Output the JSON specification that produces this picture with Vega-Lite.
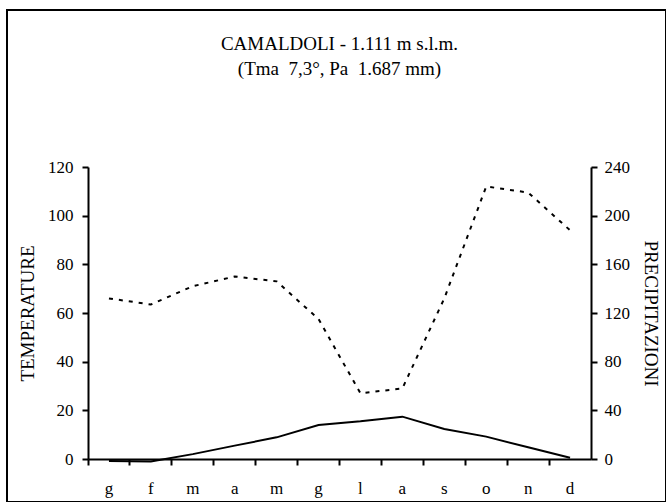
{
  "$schema": "https://vega.github.io/schema/vega-lite/v6.json",
  "width": 659,
  "height": 492,
  "autosize": {"type": "none"},
  "padding": {"left": 7, "top": 10, "right": 0, "bottom": 0},
  "background": "white",
  "title": {
    "text": ["CAMALDOLI - 1.111 m s.l.m.", "(Tma\u00a0 7,3°, Pa\u00a0 1.687 mm)"],
    "anchor": "middle",
    "font": "Liberation Serif",
    "fontSize": 19,
    "fontWeight": "normal",
    "color": "black",
    "lineHeight": 25,
    "offset": 0,
    "dy": 69,
    "dx": 3
  },
  "config": {
    "view": {"stroke": "black", "strokeWidth": 2},
    "axis": {
      "grid": false,
      "domainColor": "black",
      "domainWidth": 2,
      "tickColor": "black",
      "tickWidth": 2,
      "tickSize": 6,
      "labelFont": "Liberation Serif",
      "labelFontSize": 17,
      "labelColor": "black",
      "titleFont": "Liberation Serif",
      "titleFontSize": 19,
      "titleFontWeight": "normal",
      "titleColor": "black"
    }
  },
  "data": {
    "values": [
      {"mese": "gen", "temperatura": -0.8, "precipitazioni": 132},
      {"mese": "feb", "temperatura": -1.0, "precipitazioni": 127},
      {"mese": "mar", "temperatura": 2.0, "precipitazioni": 142},
      {"mese": "apr", "temperatura": 5.5, "precipitazioni": 150},
      {"mese": "mag", "temperatura": 8.9, "precipitazioni": 146},
      {"mese": "giu", "temperatura": 14.0, "precipitazioni": 115},
      {"mese": "lug", "temperatura": 15.5, "precipitazioni": 54},
      {"mese": "ago", "temperatura": 17.4, "precipitazioni": 58},
      {"mese": "set", "temperatura": 12.3, "precipitazioni": 132},
      {"mese": "ott", "temperatura": 9.2, "precipitazioni": 224},
      {"mese": "nov", "temperatura": 4.8, "precipitazioni": 219},
      {"mese": "dic", "temperatura": 0.5, "precipitazioni": 188}
    ]
  },
  "encoding": {
    "x": {
      "field": "mese",
      "type": "nominal",
      "sort": ["gen", "feb", "mar", "apr", "mag", "giu", "lug", "ago", "set", "ott", "nov", "dic"],
      "scale": {"type": "band", "range": [81, 584], "paddingInner": 0, "paddingOuter": 0},
      "axis": {
        "orient": "bottom",
        "offset": -43,
        "title": null,
        "labelAngle": 0,
        "labelPadding": 15,
        "bandPosition": 0,
        "labelExpr": "substring(datum.label, 0, 1)"
      }
    }
  },
  "layer": [
    {
      "mark": {"type": "line", "color": "black", "strokeWidth": 2},
      "encoding": {
        "y": {
          "field": "temperatura",
          "type": "quantitative",
          "scale": {"domain": [0, 120], "range": [449, 157], "nice": false, "zero": false},
          "axis": {
            "orient": "left",
            "offset": -81,
            "values": [0, 20, 40, 60, 80, 100, 120],
            "title": "TEMPERATURE",
            "titleX": -61,
            "titleAngle": -90,
            "titleBaseline": "middle",
            "labelPadding": 9
          }
        }
      }
    },
    {
      "mark": {"type": "line", "color": "black", "strokeWidth": 2, "strokeDash": [4, 6]},
      "encoding": {
        "y": {
          "field": "precipitazioni",
          "type": "quantitative",
          "scale": {"domain": [0, 240], "range": [449, 157], "nice": false, "zero": false},
          "axis": {
            "orient": "right",
            "offset": -75,
            "values": [0, 40, 80, 120, 160, 200, 240],
            "title": "PRECIPITAZIONI",
            "titleX": 59,
            "titleAngle": 90,
            "titleBaseline": "middle",
            "labelPadding": 7
          }
        }
      }
    }
  ],
  "resolve": {"scale": {"y": "independent"}}
}
